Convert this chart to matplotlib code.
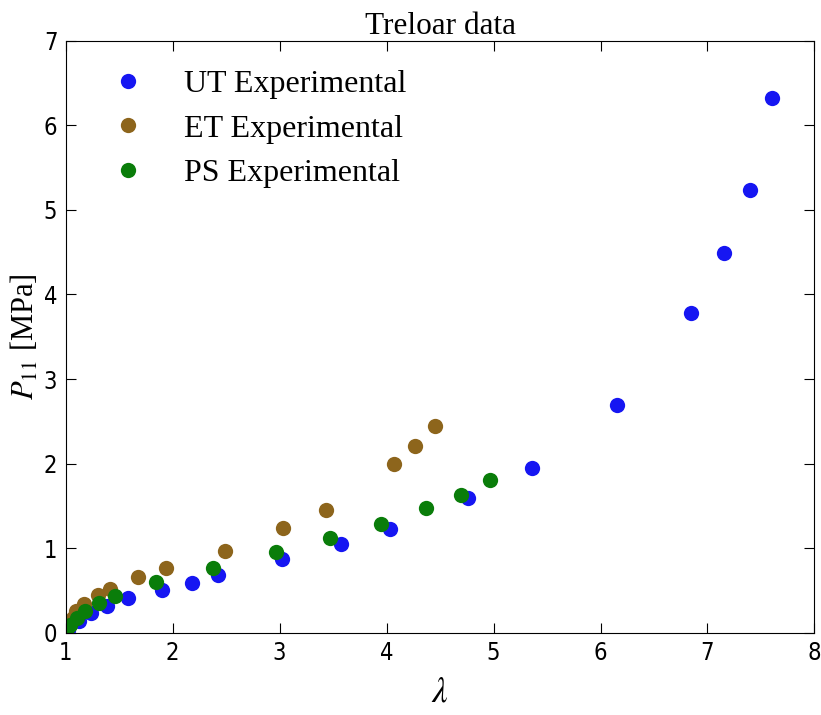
import matplotlib
matplotlib.use('Agg')
from matplotlib import pyplot as plt

# Treloar rubber data, stretch vs nominal stress (MPa)
ut_lam = [1.00, 1.02, 1.12, 1.24, 1.39, 1.58, 1.90, 2.18, 2.42, 3.02, 3.57,
          4.03, 4.76, 5.36, 6.15, 6.85, 7.15, 7.40, 7.60]
ut_p = [0.00, 0.03, 0.14, 0.23, 0.32, 0.41, 0.50, 0.59, 0.68, 0.87, 1.05,
        1.23, 1.59, 1.95, 2.69, 3.78, 4.49, 5.23, 6.32]

et_lam = [1.00, 1.04, 1.07, 1.10, 1.17, 1.30, 1.41, 1.68, 1.94, 2.49, 3.03,
          3.43, 4.07, 4.27, 4.45]
et_p = [0.00, 0.10, 0.18, 0.26, 0.34, 0.45, 0.52, 0.66, 0.77, 0.97, 1.24,
        1.45, 1.99, 2.21, 2.45]

ps_lam = [1.00, 1.04, 1.11, 1.18, 1.31, 1.46, 1.84, 2.38, 2.97, 3.47, 3.95,
          4.37, 4.70, 4.97]
ps_p = [0.00, 0.09, 0.18, 0.26, 0.35, 0.43, 0.60, 0.77, 0.95, 1.12, 1.29,
        1.47, 1.63, 1.81]

plt.rcParams['mathtext.fontset'] = 'stix'
plt.rcParams['xtick.direction'] = 'in'
plt.rcParams['ytick.direction'] = 'in'

fig = plt.figure(figsize=(8.21, 7.15), dpi=100)
ax = fig.add_axes([0.080, 0.115, 0.912, 0.828])

ms = 11
ax.plot(ut_lam, ut_p, 'o', color='#1616f2', ms=ms, mec='none', label='UT Experimental')
ax.plot(et_lam, et_p, 'o', color='#8d651c', ms=ms, mec='none', label='ET Experimental')
ax.plot(ps_lam, ps_p, 'o', color='#0a7d0a', ms=ms, mec='none', label='PS Experimental')

ax.set_xlim(1, 8)
ax.set_ylim(0, 7)
ax.set_xticks(range(1, 9))
ax.set_yticks(range(0, 8))
ax.tick_params(top=True, right=True, length=7, width=0.8, labelsize=17, pad=6)
for lbl in ax.get_xticklabels() + ax.get_yticklabels():
    lbl.set_fontstretch('condensed')
for s in ax.spines.values():
    s.set_linewidth(0.8)

ax.set_title('Treloar data', fontsize=22.5, family='Liberation Serif', pad=5)
ax.set_xlabel(r'$\lambda$', fontsize=25, labelpad=7)
ax.set_ylabel(r'$P_{11}$ [MPa]', fontsize=22, family='Liberation Serif', labelpad=2)

leg = ax.legend(loc='upper left', frameon=False,
                prop={'family': 'Liberation Serif', 'size': 23},
                handletextpad=0.78, labelspacing=0.48, borderaxespad=0.0,
                bbox_to_anchor=(0.023, 0.973))

plt.savefig('out.png', dpi=100)
